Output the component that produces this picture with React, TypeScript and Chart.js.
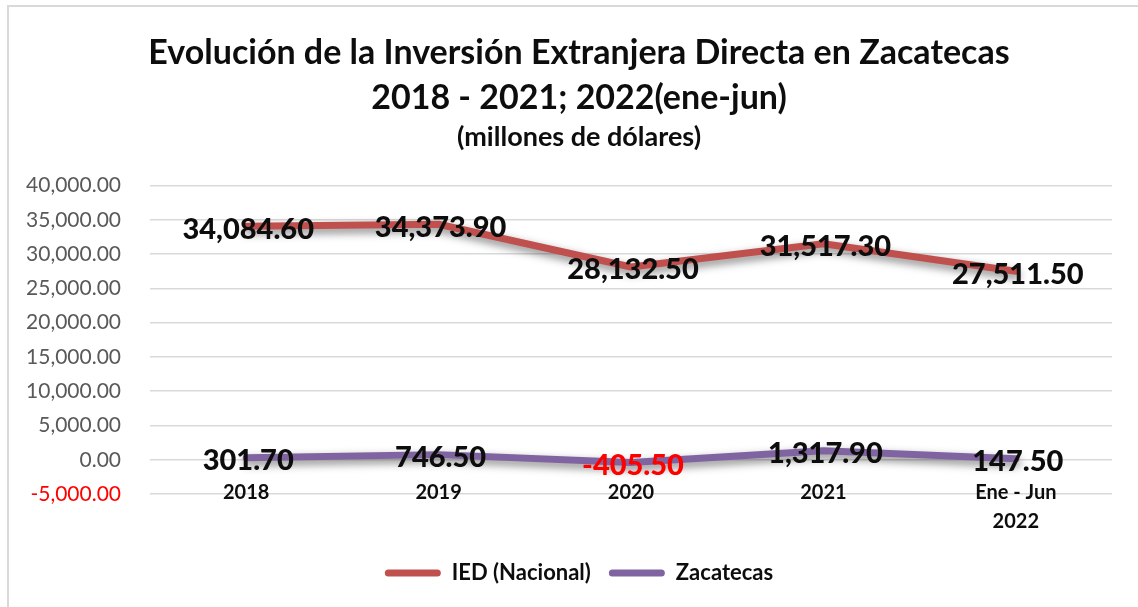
import React, { useEffect, useRef } from "react";
import { Chart, registerables } from "chart.js";

Chart.register(...registerables);

const categories: (string | string[])[] = ["2018", "2019", "2020", "2021", ["Ene - Jun", "2022"]];
const iedNacional = [34084.6, 34373.9, 28132.5, 31517.3, 27511.5];
const zacatecas = [301.7, 746.5, -405.5, 1317.9, 147.5];
const titleLines = ["Evolución de la Inversión Extranjera Directa en Zacatecas", "2018 - 2021; 2022(ene-jun)"];
const subtitleText = "(millones de dólares)";
const seriesNames = ["IED (Nacional)", "Zacatecas"];
const seriesColors = ["#C0504D", "#8064A2"];

const FONT = "Lato, 'Open Sans', sans-serif";

const fmt = (v: number) =>
  Number(v).toLocaleString("en-US", { minimumFractionDigits: 2, maximumFractionDigits: 2 });

const shadowPlugin = {
  id: "lineShadow",
  beforeDatasetDraw(chart: any) {
    const ctx = chart.ctx;
    ctx.save();
    ctx.shadowColor = "rgba(0,0,0,0.5)";
    ctx.shadowBlur = 8;
    ctx.shadowOffsetX = 1;
    ctx.shadowOffsetY = 4;
  },
  afterDatasetDraw(chart: any) {
    chart.ctx.restore();
  },
};

const dataLabelPlugin = {
  id: "dataLabels",
  afterDatasetsDraw(chart: any) {
    const ctx = chart.ctx;
    ctx.save();
    ctx.font = `900 29px ${FONT}`;
    ctx.textAlign = "center";
    ctx.textBaseline = "middle";
    chart.data.datasets.forEach((ds: any, i: number) => {
      const meta = chart.getDatasetMeta(i);
      meta.data.forEach((pt: any, j: number) => {
        const v = ds.data[j] as number;
        ctx.fillStyle = v < 0 ? "#FF0000" : "#0D0D0D";
        ctx.fillText(fmt(v), pt.x + 2, pt.y + 3);
      });
    });
    ctx.restore();
  },
};

export default function App() {
  const ref = useRef<HTMLCanvasElement | null>(null);

  useEffect(() => {
    if (!ref.current) return;
    const chart = new Chart(ref.current, {
      type: "line",
      data: {
        labels: categories as any,
        datasets: [
          {
            label: seriesNames[0],
            data: iedNacional,
            borderColor: seriesColors[0],
            backgroundColor: seriesColors[0],
            borderWidth: 7,
            pointRadius: 0,
            tension: 0,
            borderCapStyle: "round",
            borderJoinStyle: "round",
          },
          {
            label: seriesNames[1],
            data: zacatecas,
            borderColor: seriesColors[1],
            backgroundColor: seriesColors[1],
            borderWidth: 7,
            pointRadius: 0,
            tension: 0,
            borderCapStyle: "round",
            borderJoinStyle: "round",
          },
        ],
      },
      options: {
        responsive: false,
        animation: false,
        layout: { padding: { left: 20, right: 0, top: 0, bottom: 13 } },
        scales: {
          x: {
            type: "category",
            offset: true,
            position: { y: 0 } as any,
            grid: { display: false, drawTicks: false },
            border: { display: false },
            ticks: {
              padding: 18.5,
              color: "#0D0D0D",
              maxRotation: 0,
              autoSkip: false,
              font: { family: FONT, size: 20, weight: "bold", lineHeight: 1.45 },
            },
          },
          y: {
            min: -5000,
            max: 40000,
            afterFit: (s: any) => {
              s.width = 130;
            },
            border: { display: false },
            grid: { color: "#D9D9D9", lineWidth: 1.5, drawTicks: false },
            ticks: {
              stepSize: 5000,
              padding: 29,
              color: (c: any) => (c.tick && c.tick.value < 0 ? "#FF0000" : "#595959"),
              font: { family: FONT, size: 21 },
              callback: (v: any) => fmt(Number(v)),
            },
          },
          ySpacer: {
            type: "linear",
            position: "right",
            afterFit: (s: any) => {
              s.width = 26;
            },
            border: { display: false },
            grid: { display: false, drawTicks: false },
            ticks: { display: false },
          },
        },
        plugins: {
          title: {
            display: true,
            text: titleLines,
            color: "#0D0D0D",
            font: { family: FONT, size: 34, weight: "bold", lineHeight: 1.32 },
            padding: { top: 31, bottom: 0 },
          },
          subtitle: {
            display: true,
            text: subtitleText,
            color: "#0D0D0D",
            font: { family: FONT, size: 27, weight: "bold", lineHeight: 1.2 },
            padding: { top: 0, bottom: 32.5 },
          },
          legend: {
            display: true,
            position: "bottom",
            title: {
              display: true,
              text: " ",
              font: { family: FONT, size: 10, lineHeight: 1 },
              padding: { top: 40, bottom: 0 },
            },
            labels: {
              boxWidth: 56,
              boxHeight: 7,
              padding: 18,
              color: "#0D0D0D",
              useBorderRadius: true,
              borderRadius: 3.5,
              font: { family: FONT, size: 22, weight: "bold" },
              generateLabels: (ch: any) =>
                ch.data.datasets.map((ds: any, i: number) => ({
                  text: ds.label,
                  fillStyle: seriesColors[i],
                  strokeStyle: seriesColors[i],
                  lineWidth: 0,
                  hidden: false,
                  datasetIndex: i,
                  borderRadius: 3.5,
                  fontColor: "#0D0D0D",
                })),
            },
          },
          tooltip: { enabled: false },
        },
      },
      plugins: [shadowPlugin, dataLabelPlugin],
    });
    return () => chart.destroy();
  }, []);

  return (
    <div
      style={{
        position: "fixed",
        left: 0,
        top: 0,
        width: 1138,
        height: 607,
        overflow: "hidden",
        background: "#FFFFFF",
      }}
    >
      <canvas ref={ref} width={1138} height={607} style={{ position: "absolute", left: 0, top: 0 }} />
      <div
        style={{
          position: "absolute",
          left: 7,
          top: 5,
          width: 1300,
          height: 800,
          borderTop: "2px solid #D9D9D9",
          borderLeft: "2px solid #D9D9D9",
          pointerEvents: "none",
        }}
      />
    </div>
  );
}
